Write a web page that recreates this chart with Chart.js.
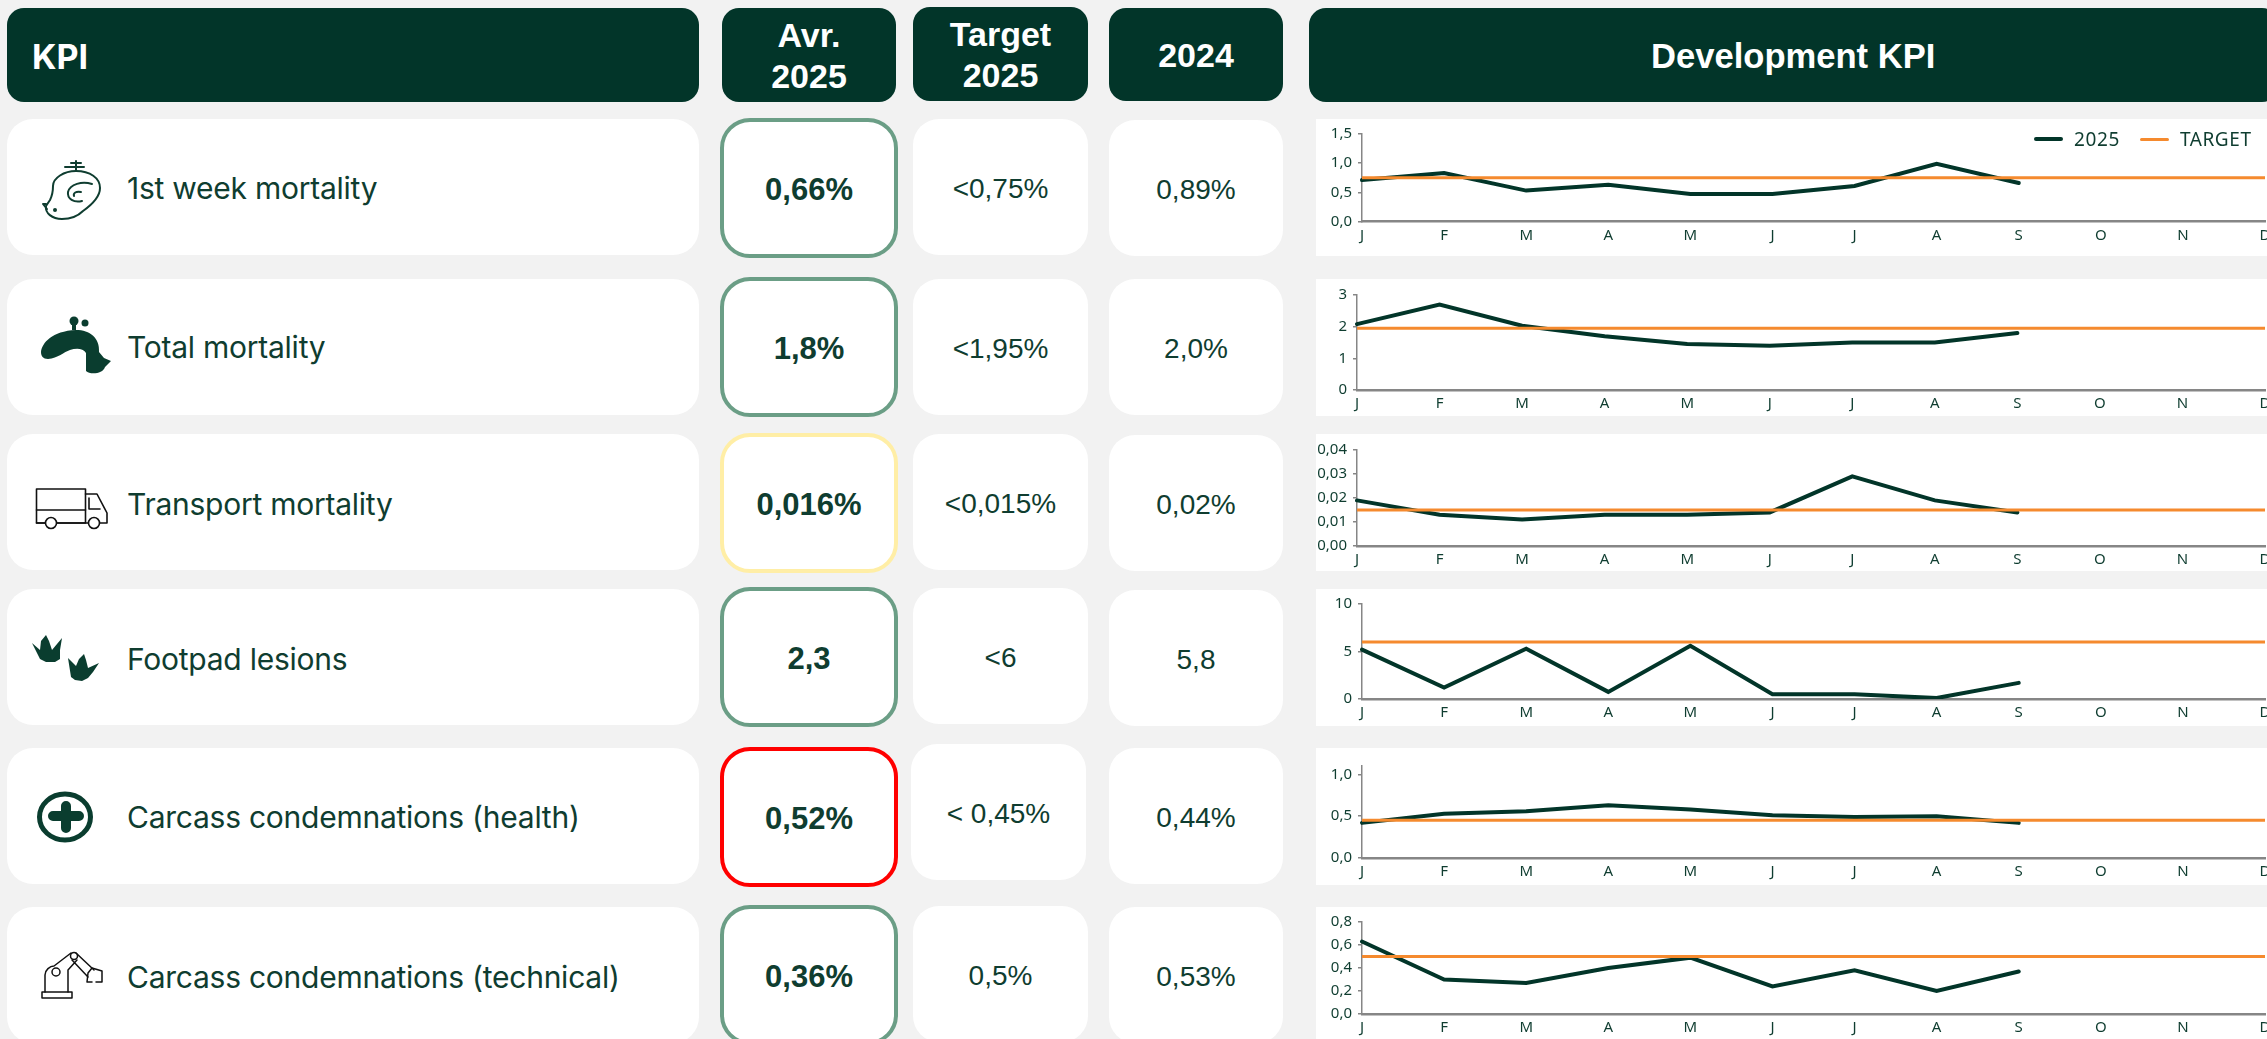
<!DOCTYPE html>
<html>
<head>
<meta charset="utf-8">
<title>KPI overview</title>
<script src="https://cdn.jsdelivr.net/npm/chart.js@4"></script>
<style>
  html, body { margin: 0; padding: 0; width: 2267px; height: 1039px; overflow: hidden; background: #f2f2f2; }
  .box { position: absolute; box-sizing: border-box; display: flex; align-items: center; justify-content: center; text-align: center; }
  .head { background: #023529; color: #fff; border-radius: 17px; padding-top: 2px; font: bold 34px/41px "Liberation Sans", Arial, sans-serif; }
  .cell { background: #fff; border-radius: 26px; padding-top: 3px; color: #0f3d30; font: 28px "Liberation Sans", Arial, sans-serif; }
  .avr { font-weight: bold; font-size: 31px; border-style: solid; border-width: 4px; border-radius: 30px; }
  .kpi { position: absolute; color: #0f3d30; font: 30px Inter, sans-serif; letter-spacing: -0.25px; transform: translateY(-50%); white-space: nowrap; }
  .panel { position: absolute; left: 1316px; width: 951px; background: #fff; }
  canvas { position: absolute; left: 1300px; }
  #icons { position: absolute; left: 0; top: 0; }
  #legend { position: absolute; top: 128px; left: 2034px; height: 22px; display: flex; align-items: center; color: #0f3d30; font: 19px "Noto Sans", sans-serif; letter-spacing: 0.6px; white-space: nowrap; }
  #legend i { display: block; width: 29px; margin-right: 11px; border-radius: 2px; }
  #legend span { margin-right: 20px; }
</style>
</head>
<body>
<svg id="icons" width="2267" height="1039" fill="none" stroke-linejoin="round" stroke-linecap="round">
  <!-- chick -->
  <g stroke="#0f3d30" stroke-width="2">
    <path d="M53 186C53 178 64 171 76 171C90 171 100 178 100 188C100 198 90 206 83 211C78 216 70 219 62 219C52 219 45 213 46 206L50 200C52 196 53 191 53 186Z"/>
    <path d="M92 184C82 181 70 184 68 192C67 199 74 203 82 201M81 192C76 191 73 193 74 196"/>
    <path d="M76 171V161M65 167H84M71 163H81"/>
    <path d="M46 204L43 204L47 209"/>
  </g>
  <circle cx="55" cy="210" r="2" fill="#0f3d30"/>
  <!-- dead chick -->
  <path fill="#0a3d2f" d="M41 352C42 343 52 331 76 330C90 330 100 338 99 352L104 358L111 361L105 367C103 374 90 375 86 371L86 353C83 348 76 348 70 350C64 352 58 358 48 359C43 359 41 356 41 352Z"/>
  <circle cx="74" cy="321" r="4.5" fill="#0a3d2f"/><circle cx="85" cy="323" r="3.5" fill="#0a3d2f"/><rect x="72" y="321" width="4" height="9" fill="#0a3d2f"/>
  <!-- truck -->
  <g stroke="#111" stroke-width="1.6">
    <rect x="36.5" y="489" width="49" height="34"/>
    <path d="M36.500 510H85.500M85.500 494H97L107 513V523H100M88 523H85.500M36.500 523H45M57 523H88M89 498V509H100"/>
    <circle cx="51" cy="523" r="5.500" fill="#fff"/><circle cx="94" cy="523" r="5.500" fill="#fff"/>
  </g>
  <!-- feet -->
  <g fill="#0a3d2f">
    <path d="M32 643L40 650L41 641L46 635L49 641L52 650L62 638L60 650L60 659L55 662L46 662L40 659Z"/>
    <path d="M68 658L76 666L79 659L84 654L86 660L88 668L99 663L93 672L88 678L82 681L75 680L71 677Z"/>
  </g>
  <!-- health -->
  <ellipse cx="65" cy="817" rx="25.500" ry="23" stroke="#0a3d2f" stroke-width="5"/>
  <path stroke="#0a3d2f" stroke-width="10" d="M53 816H79M66 806V828"/>
  <!-- robot -->
  <g stroke="#111" stroke-width="1.5">
    <rect x="42" y="992" width="30" height="6"/>
    <path d="M45 992V975C45 970 50 966 54 966L71 953M68 992V970L77 960M76 953L94 970M72 960L88 977"/>
    <path d="M88 973L92 968L102 971V982H96M88 973L87 982H92"/>
    <circle cx="56" cy="972" r="4"/><circle cx="74" cy="956" r="3.5"/>
  </g>
</svg>
<div id="legend"></div>

<script>
// table text
const kpiNames = ["1st week mortality", "Total mortality", "Transport mortality", "Footpad lesions", "Carcass condemnations (health)", "Carcass condemnations (technical)"];
const avr2025 = ["0,66%", "1,8%", "0,016%", "2,3", "0,52%", "0,36%"];
const target2025 = ["<0,75%", "<1,95%", "<0,015%", "<6", "< 0,45%", "0,5%"];
const last2024 = ["0,89%", "2,0%", "0,02%", "5,8", "0,44%", "0,53%"];

// chart data
const months = ["J", "F", "M", "A", "M", "J", "J", "A", "S", "O", "N", "D"];
const values1 = [0.71, 0.83, 0.53, 0.63, 0.47, 0.47, 0.61, 0.99, 0.66];
const values2 = [2.08, 2.7, 2.03, 1.7, 1.45, 1.4, 1.5, 1.5, 1.8];
const values3 = [0.019, 0.013, 0.011, 0.013, 0.013, 0.014, 0.029, 0.019, 0.014];
const values4 = [5.2, 1.2, 5.3, 0.75, 5.6, 0.5, 0.5, 0.1, 1.7];
const values5 = [0.42, 0.53, 0.56, 0.63, 0.58, 0.51, 0.49, 0.5, 0.42];
const values6 = [0.63, 0.3, 0.27, 0.4, 0.49, 0.24, 0.38, 0.2, 0.37];
const target1 = [0.75, 0.75, 0.75, 0.75, 0.75, 0.75, 0.75, 0.75, 0.75, 0.75, 0.75, 0.75];
const target2 = [1.95, 1.95, 1.95, 1.95, 1.95, 1.95, 1.95, 1.95, 1.95, 1.95, 1.95, 1.95];
const target3 = [0.015, 0.015, 0.015, 0.015, 0.015, 0.015, 0.015, 0.015, 0.015, 0.015, 0.015, 0.015];
const target4 = [6, 6, 6, 6, 6, 6, 6, 6, 6, 6, 6, 6];
const target5 = [0.45, 0.45, 0.45, 0.45, 0.45, 0.45, 0.45, 0.45, 0.45, 0.45, 0.45, 0.45];
const target6 = [0.5, 0.5, 0.5, 0.5, 0.5, 0.5, 0.5, 0.5, 0.5, 0.5, 0.5, 0.5];
const ticks1 = [0, 0.5, 1, 1.5];
const ticks2 = [0, 1, 2, 3];
const ticks3 = [0, 0.01, 0.02, 0.03, 0.04];
const ticks4 = [0, 5, 10];
const ticks5 = [0, 0.5, 1];
const ticks6 = [0, 0.2, 0.4, 0.6, 0.8];

const allValues = [values1, values2, values3, values4, values5, values6];
const allTargets = [target1, target2, target3, target4, target5, target6];
const allTicks = [ticks1, ticks2, ticks3, ticks4, ticks5, ticks6];
const axisMax = [1.5, 3, 0.04, 10, 1.1, 0.8];
const tickDecimals = [1, 0, 2, 0, 1, 1];

// layout, one entry per row
const kpiTop = [119, 279, 434, 589, 748, 907];
const labelY = [188, 347, 504, 659, 817, 977];
const avrTop = [118, 277, 433, 587, 747, 905];
const avrBorder = ["#6b9e86", "#6b9e86", "#ffeea6", "#6b9e86", "#ff0000", "#6b9e86"];
const targetTop = [119, 279, 434, 588, 744, 906];
const targetLeft = [913, 913, 913, 913, 911, 913];
const lastTop = [120, 279, 435, 590, 748, 907];
const axisX = [1362, 1357, 1357, 1362, 1362, 1362];
const axisTop = [134, 295, 450, 603, 766, 922];
const axisBottom = [221.5, 390, 546, 699, 858, 1014];
const panelH = 137;

function addBox(cls, left, top, width, height, html, extra) {
  const div = document.createElement("div");
  div.className = "box " + cls;
  div.style.cssText = `left:${left}px;top:${top}px;width:${width}px;height:${height}px;` + (extra || "");
  div.innerHTML = html;
  document.body.appendChild(div);
  return div;
}

// Header row
addBox("head", 7, 8, 692, 94, "KPI", 'justify-content:flex-start;padding-left:25px;font-family:Inter,sans-serif;');
addBox("head", 722, 8, 174, 94, "Avr.<br>2025");
addBox("head", 913, 7, 175, 94, "Target<br>2025");
addBox("head", 1109, 8, 174, 93, "2024");
addBox("head", 1309, 8, 970, 94, '<span style="position:absolute;left:342px;font-size:34.6px">Development KPI</span>');

// Table rows
kpiNames.forEach((name, i) => {
  addBox("cell", 7, kpiTop[i], 692, 136, "");
  const label = document.createElement("div");
  label.className = "kpi";
  label.style.left = "127px";
  label.style.top = labelY[i] + "px";
  label.textContent = name;
  document.body.appendChild(label);

  addBox("cell avr", 720, avrTop[i], 178, 140, avr2025[i], `border-color:${avrBorder[i]};`);
  addBox("cell", targetLeft[i], targetTop[i], 175, 136, target2025[i].replace("<", "&lt;"));
  addBox("cell", 1109, lastTop[i], 174, 136, last2024[i]);
});
document.body.appendChild(document.getElementById("icons"));

// Charts
allValues.forEach((values, i) => {
  const panel = document.createElement("div");
  panel.className = "panel";
  panel.style.top = kpiTop[i] + "px";
  panel.style.height = panelH + "px";
  document.body.appendChild(panel);

  const canvas = document.createElement("canvas");
  canvas.width = 1000;
  canvas.height = panelH;
  canvas.style.top = kpiTop[i] + "px";
  document.body.appendChild(canvas);

  const chart = new Chart(canvas.getContext("2d"), {
    type: "line",
    data: {
      labels: months,
      datasets: [
        { label: "2025", data: values, borderColor: "#023529", borderWidth: 4, pointRadius: 0, tension: 0, borderCapStyle: "round", order: 2 },
        { label: "TARGET", data: allTargets[i], borderColor: "#f58a2e", borderWidth: 3, pointRadius: 0, tension: 0, order: 1 }
      ]
    },
    options: {
      responsive: false,
      animation: false,
      layout: { padding: { top: axisTop[i] - kpiTop[i], right: 35, left: 0, bottom: 0 } },
      plugins: { legend: { display: false }, tooltip: { enabled: false } },
      scales: {
        x: {
          afterFit: (s) => { s.height = panelH - (axisBottom[i] - kpiTop[i]); },
          grid: { display: false, drawTicks: false },
          border: { display: true, color: "#868686", width: 2.5 },
          ticks: { color: "#0f3d30", font: { family: "Noto Sans", size: 15 }, padding: 5, maxRotation: 0, autoSkip: false }
        },
        y: {
          min: 0,
          max: axisMax[i],
          afterFit: (s) => { s.width = axisX[i] - 1300; },
          afterBuildTicks: (s) => { s.ticks = allTicks[i].map((v) => ({ value: v })); },
          grid: { drawOnChartArea: false, drawTicks: true, tickLength: 4, color: "#868686", lineWidth: 1.5 },
          border: { display: true, color: "#868686", width: 1.5 },
          ticks: {
            color: "#0f3d30",
            font: { family: "Noto Sans", size: 15 },
            padding: 6,
            callback: (v) => Number(v).toFixed(tickDecimals[i]).replace(".", ",")
          }
        }
      }
    }
  });

  // legend only on the first chart
  if (i === 0) {
    const legend = document.getElementById("legend");
    chart.data.datasets.forEach((ds) => {
      const swatch = document.createElement("i");
      swatch.style.background = ds.borderColor;
      swatch.style.height = (ds.label === "2025" ? 4 : 3) + "px";
      const text = document.createElement("span");
      text.textContent = ds.label;
      legend.append(swatch, text);
    });
    document.body.appendChild(legend);
  }
});
</script>
</body>
</html>
